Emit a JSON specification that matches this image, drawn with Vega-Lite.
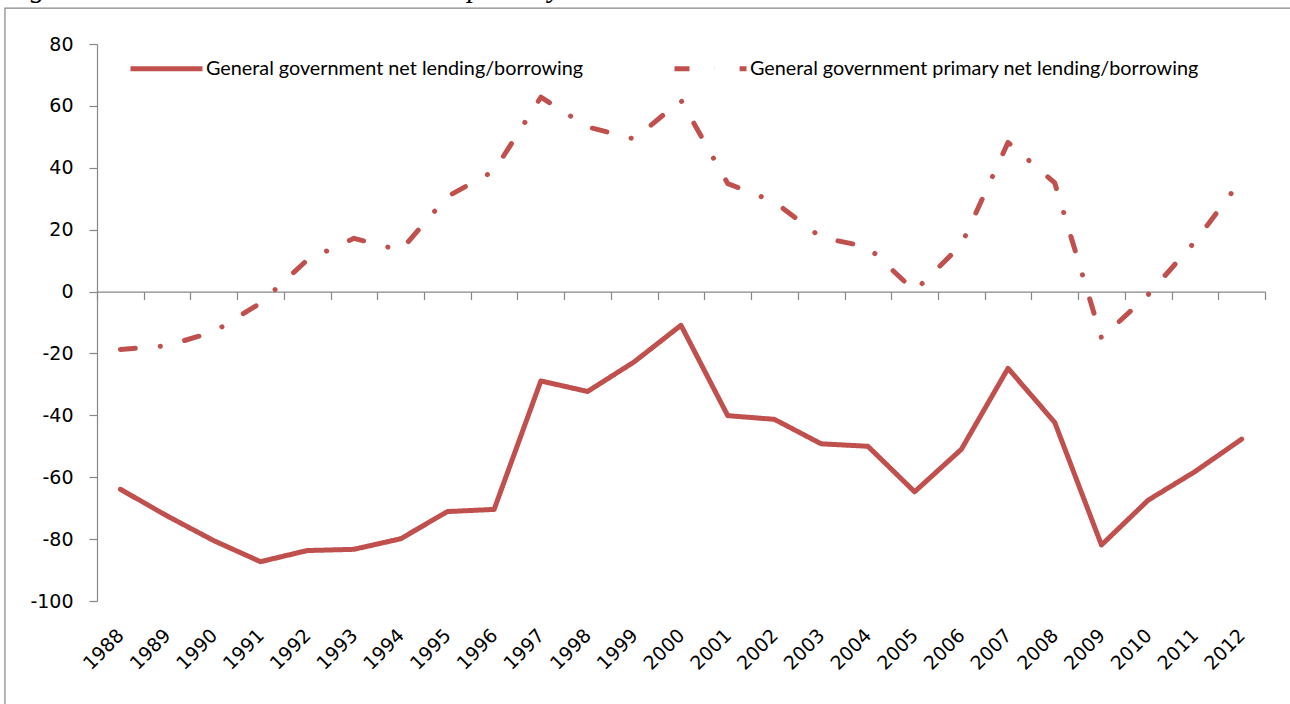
{
  "$schema": "https://vega.github.io/schema/vega-lite/v6.json",
  "autosize": "none",
  "width": 1168,
  "height": 557,
  "padding": {"left": 97, "top": 44, "right": 25, "bottom": 103},
  "background": "white",
  "title": {
    "text": "Figure 4: General Government net and primary balance",
    "anchor": "start",
    "frame": "group",
    "baseline": "alphabetic",
    "dx": -92,
    "offset": -18,
    "font": "Liberation Serif",
    "fontStyle": "italic",
    "fontWeight": "normal",
    "fontSize": 29,
    "color": "black"
  },
  "config": {"view": {"stroke": null}, "axis": {"grid": false}},
  "data": {
    "values": [
      {"year": 1988, "series": "General government net lending/borrowing", "value": -63.9},
      {"year": 1989, "series": "General government net lending/borrowing", "value": -72.5},
      {"year": 1990, "series": "General government net lending/borrowing", "value": -80.5},
      {"year": 1991, "series": "General government net lending/borrowing", "value": -87.3},
      {"year": 1992, "series": "General government net lending/borrowing", "value": -83.7},
      {"year": 1993, "series": "General government net lending/borrowing", "value": -83.3},
      {"year": 1994, "series": "General government net lending/borrowing", "value": -79.9},
      {"year": 1995, "series": "General government net lending/borrowing", "value": -71.1},
      {"year": 1996, "series": "General government net lending/borrowing", "value": -70.4},
      {"year": 1997, "series": "General government net lending/borrowing", "value": -28.9},
      {"year": 1998, "series": "General government net lending/borrowing", "value": -32.3},
      {"year": 1999, "series": "General government net lending/borrowing", "value": -22.7},
      {"year": 2000, "series": "General government net lending/borrowing", "value": -10.9},
      {"year": 2001, "series": "General government net lending/borrowing", "value": -40.1},
      {"year": 2002, "series": "General government net lending/borrowing", "value": -41.3},
      {"year": 2003, "series": "General government net lending/borrowing", "value": -49.2},
      {"year": 2004, "series": "General government net lending/borrowing", "value": -50.0},
      {"year": 2005, "series": "General government net lending/borrowing", "value": -64.7},
      {"year": 2006, "series": "General government net lending/borrowing", "value": -51.0},
      {"year": 2007, "series": "General government net lending/borrowing", "value": -24.8},
      {"year": 2008, "series": "General government net lending/borrowing", "value": -42.3},
      {"year": 2009, "series": "General government net lending/borrowing", "value": -81.9},
      {"year": 2010, "series": "General government net lending/borrowing", "value": -67.4},
      {"year": 2011, "series": "General government net lending/borrowing", "value": -58.2},
      {"year": 2012, "series": "General government net lending/borrowing", "value": -47.7},
      {"year": 1988, "series": "General government primary net lending/borrowing", "value": -18.7},
      {"year": 1989, "series": "General government primary net lending/borrowing", "value": -17.5},
      {"year": 1990, "series": "General government primary net lending/borrowing", "value": -13.0},
      {"year": 1991, "series": "General government primary net lending/borrowing", "value": -3.7},
      {"year": 1992, "series": "General government primary net lending/borrowing", "value": 10.2},
      {"year": 1993, "series": "General government primary net lending/borrowing", "value": 17.2},
      {"year": 1994, "series": "General government primary net lending/borrowing", "value": 13.3},
      {"year": 1995, "series": "General government primary net lending/borrowing", "value": 30.7},
      {"year": 1996, "series": "General government primary net lending/borrowing", "value": 39.0},
      {"year": 1997, "series": "General government primary net lending/borrowing", "value": 62.8},
      {"year": 1998, "series": "General government primary net lending/borrowing", "value": 53.2},
      {"year": 1999, "series": "General government primary net lending/borrowing", "value": 49.3},
      {"year": 2000, "series": "General government primary net lending/borrowing", "value": 61.8},
      {"year": 2001, "series": "General government primary net lending/borrowing", "value": 34.9},
      {"year": 2002, "series": "General government primary net lending/borrowing", "value": 29.0},
      {"year": 2003, "series": "General government primary net lending/borrowing", "value": 17.5},
      {"year": 2004, "series": "General government primary net lending/borrowing", "value": 14.4},
      {"year": 2005, "series": "General government primary net lending/borrowing", "value": 0.2},
      {"year": 2006, "series": "General government primary net lending/borrowing", "value": 15.1},
      {"year": 2007, "series": "General government primary net lending/borrowing", "value": 48.2},
      {"year": 2008, "series": "General government primary net lending/borrowing", "value": 35.1},
      {"year": 2009, "series": "General government primary net lending/borrowing", "value": -15.0},
      {"year": 2010, "series": "General government primary net lending/borrowing", "value": -1.0},
      {"year": 2011, "series": "General government primary net lending/borrowing", "value": 16.1},
      {"year": 2012, "series": "General government primary net lending/borrowing", "value": 36.2}
    ]
  },
  "layer": [
    {
      "data": {"values": [{"frame": "chart area"}]},
      "mark": {"type": "rect", "fill": null, "stroke": "#878787", "strokeWidth": 1.2, "clip": false},
      "encoding": {
        "x": {"datum": 1985.53, "type": "quantitative", "scale": {"domain": [1987.5, 2012.5], "nice": false, "zero": false}, "axis": null},
        "x2": {"datum": 2030},
        "y": {"datum": 91.6, "type": "quantitative", "scale": {"domain": [-100, 80], "nice": false, "zero": false}, "axis": null},
        "y2": {"datum": -300}
      }
    },
    {
      "mark": {"type": "line", "opacity": 0},
      "encoding": {
        "x": {
          "field": "year", "type": "quantitative",
          "scale": {"domain": [1987.5, 2012.5], "nice": false, "zero": false},
          "axis": {
            "orient": "bottom", "offset": -309.4, "title": null, "labels": false,
            "values": [1987.5, 1988.5, 1989.5, 1990.5, 1991.5, 1992.5, 1993.5, 1994.5, 1995.5, 1996.5, 1997.5, 1998.5, 1999.5, 2000.5, 2001.5, 2002.5, 2003.5, 2004.5, 2005.5, 2006.5, 2007.5, 2008.5, 2009.5, 2010.5, 2011.5, 2012.5],
            "ticks": true, "tickSize": 8, "tickWidth": 1.2, "tickColor": "#878787",
            "domain": true, "domainColor": "#878787", "domainWidth": 1.2, "grid": false
          }
        },
        "y": {"field": "value", "type": "quantitative", "scale": {"domain": [-100, 80], "nice": false, "zero": false}, "axis": null},
        "detail": {"field": "series"}
      }
    },
    {
      "mark": {"type": "line", "strokeWidth": 5, "strokeCap": "round", "strokeJoin": "round"},
      "encoding": {
        "x": {
          "field": "year", "type": "quantitative",
          "scale": {"domain": [1987.5, 2012.5], "nice": false, "zero": false},
          "axis": {
            "orient": "bottom", "title": null, "format": "d",
            "values": [1988, 1989, 1990, 1991, 1992, 1993, 1994, 1995, 1996, 1997, 1998, 1999, 2000, 2001, 2002, 2003, 2004, 2005, 2006, 2007, 2008, 2009, 2010, 2011, 2012],
            "labelAngle": -45, "labelAlign": "right", "labelBaseline": "middle",
            "labelPadding": 31, "ticks": false, "domain": false, "grid": false,
            "labelFont": "DejaVu Sans", "labelFontSize": 19, "labelColor": "black",
            "labelOverlap": false, "labelFlush": false
          }
        },
        "y": {
          "field": "value", "type": "quantitative",
          "scale": {"domain": [-100, 80], "nice": false, "zero": false},
          "axis": {
            "title": null, "values": [-100, -80, -60, -40, -20, 0, 20, 40, 60, 80],
            "labelExpr": "replace(datum.label, '\u2212', '-')",
            "tickSize": 8, "tickWidth": 1.2, "tickColor": "#878787",
            "domainColor": "#878787", "domainWidth": 1.2,
            "labelPadding": 16, "labelFont": "DejaVu Sans", "labelFontSize": 19,
            "labelColor": "black", "grid": false, "labelOverlap": false
          }
        },
        "color": {
          "field": "series", "type": "nominal",
          "scale": {"range": ["#C0504D", "#C0504D"]},
          "legend": {
            "orient": "none", "legendX": 31, "legendY": -14, "direction": "horizontal",
            "title": null, "symbolType": "stroke", "symbolSize": 5184, "symbolStrokeWidth": 5,
            "labelFont": "Lato", "labelFontSize": 19.8, "labelColor": "black", "labelLimit": 0,
            "columnPadding": 80, "labelOffset": 1, "padding": 0
          }
        },
        "strokeDash": {
          "field": "series", "type": "nominal",
          "scale": {"range": [[1, 0], [15, 25, 0.1, 25]]},
          "legend": {
            "orient": "none", "legendX": 31, "legendY": -14, "direction": "horizontal",
            "title": null, "symbolType": "stroke", "symbolSize": 5184, "symbolStrokeWidth": 5,
            "labelFont": "Lato", "labelFontSize": 19.8, "labelColor": "black", "labelLimit": 0,
            "columnPadding": 80, "labelOffset": 1, "padding": 0
          }
        }
      }
    }
  ],
  "resolve": {"axis": {"x": "independent", "y": "independent"}}
}
